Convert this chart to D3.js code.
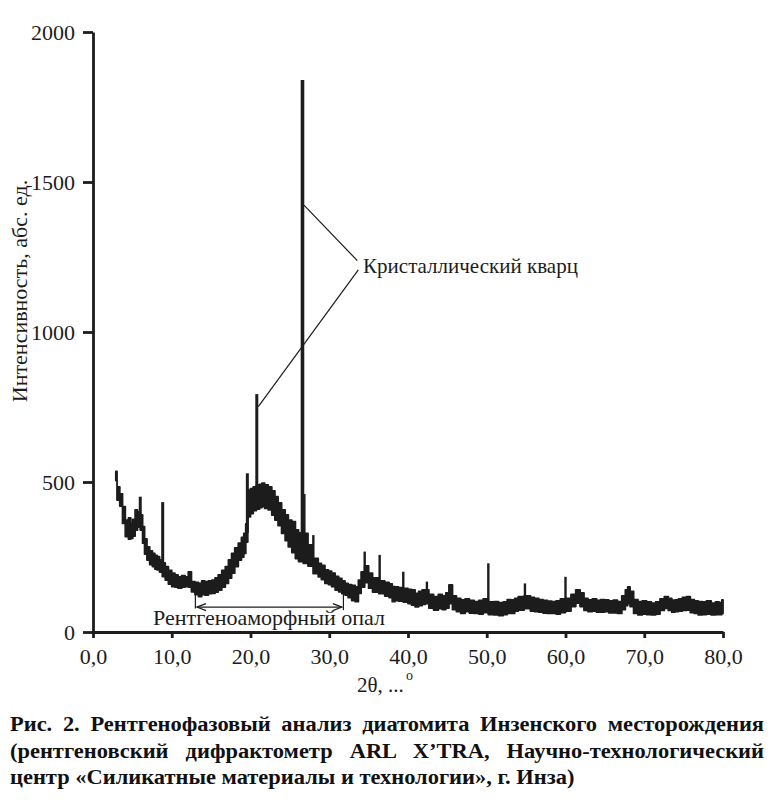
<!DOCTYPE html>
<html>
<head>
<meta charset="utf-8">
<script src="https://cdn.jsdelivr.net/npm/d3@7"></script>
<style>
  body { margin: 0; background: #fff; }
  svg { display: block; font-family: "Liberation Serif", "Times New Roman", serif; }
</style>
</head>
<body>
<div id="chart"></div>
<script>
// Declare constants
const WIDTH = 772;
const HEIGHT = 800;
const INK = "#1c1c1c";

// XRD pattern: noisy band read as upper / lower envelope
const twoTheta = [2.9, 3.2, 3.6, 3.9, 4.3, 4.7, 4.9, 5.2, 5.5, 5.8, 6.2, 6.4, 6.7, 7.0, 7.4, 7.7, 8.0, 8.3, 8.6,
  9.0, 9.35, 9.8, 10.2, 10.6, 11.0, 11.5, 11.9, 12.3, 12.7, 13.2, 13.6, 14.0, 14.4, 14.9, 15.3, 15.7, 16.1,
  16.6, 17.0, 17.4, 17.8, 18.2, 18.7, 19.0, 19.3, 19.5, 19.8, 20.2, 20.5, 21.0, 21.3, 21.6, 22.0, 22.5,
  22.9, 23.3, 23.7, 24.2, 24.6, 25.0, 25.5, 25.9, 26.3, 27.1, 27.5, 28.4, 28.8, 29.2, 29.7, 30.1, 30.5,
  31.0, 31.4, 31.8, 32.2, 32.6, 33.1, 33.5, 33.9, 34.2, 34.8, 35.2, 35.8, 36.8, 37.3, 37.9, 38.1, 38.6,
  39.0, 39.8, 40.2, 40.7, 41.1, 41.6, 42.0, 42.4, 42.9, 43.6, 44.1, 44.6, 45.0, 45.4, 45.9, 46.4, 47.0,
  47.5, 48.1, 48.7, 49.3, 49.8, 50.6, 51.2, 51.8, 52.4, 52.8, 53.3, 53.8, 54.2, 55.3, 55.8, 56.3, 56.9,
  57.4, 58.0, 58.5, 59.1, 59.6, 60.4, 61.0, 61.6, 62.1, 62.6, 63.1, 63.7, 64.2, 64.7, 65.2, 65.8, 66.3,
  66.9, 67.4, 67.8, 68.0, 68.4, 68.9, 69.5, 70.0, 70.6, 71.2, 71.7, 72.3, 72.8, 73.3, 73.7, 74.1, 74.6,
  75.1, 75.6, 76.1, 76.6, 77.1, 77.6, 78.2, 78.8, 79.3, 79.7, 80.0];
const upper = [535, 484, 460, 418, 373, 380, 362, 375, 407, 400, 390, 351, 310, 284, 270, 262, 255, 251, 240,
  230, 218, 205, 196, 190, 184, 188, 184, 200, 168, 165, 162, 170, 168, 170, 173, 180, 190,
  205, 218, 240, 262, 280, 296, 315, 329, 360, 473, 478, 484, 490, 492, 496, 490, 484,
  470, 451, 430, 407, 390, 373, 368, 340, 330, 329, 290, 245, 229, 222, 207, 203, 196,
  185, 179, 170, 162, 158, 155, 150, 173, 200, 220, 196, 180, 170, 165, 160, 151, 150,
  148, 145, 142, 140, 129, 135, 140, 140, 125, 118, 125, 120, 130, 157, 120, 112, 107,
  110, 105, 101, 105, 110, 100, 101, 98, 100, 108, 107, 112, 118, 120, 115, 112, 108,
  105, 103, 101, 104, 110, 112, 125, 140, 130, 112, 107, 110, 105, 108, 107, 104, 106,
  101, 120, 140, 150, 135, 108, 101, 104, 100, 96, 100, 110, 118, 112, 106, 107, 110,
  115, 118, 108, 104, 101, 100, 104, 96, 100, 98, 107];
const lower = [505, 440, 420, 362, 318, 310, 312, 320, 340, 350, 340, 296, 260, 240, 225, 218, 210, 207, 200,
  185, 173, 160, 151, 150, 146, 150, 151, 150, 134, 125, 118, 125, 123, 128, 129, 133, 140,
  150, 162, 180, 196, 218, 240, 250, 262, 300, 384, 395, 405, 410, 415, 418, 412, 407,
  390, 373, 355, 329, 305, 284, 265, 245, 235, 229, 220, 195, 184, 175, 162, 158, 151,
  140, 134, 128, 123, 115, 105, 101, 129, 150, 165, 146, 133, 128, 120, 115, 101, 105,
  103, 100, 95, 90, 84, 88, 92, 95, 80, 73, 78, 75, 80, 95, 75, 68, 62,
  68, 63, 62, 60, 65, 58, 57, 55, 58, 62, 62, 70, 73, 78, 70, 68, 66,
  63, 62, 62, 60, 65, 70, 85, 96, 85, 72, 68, 70, 66, 66, 68, 64, 64,
  62, 75, 88, 95, 85, 62, 57, 60, 58, 57, 60, 72, 79, 72, 66, 68, 70,
  72, 73, 65, 62, 57, 58, 60, 57, 58, 58, 62];

// narrow crystalline reflections
const spikePos = [6.0, 8.85, 12.3, 19.6, 20.8, 25.5, 26.6, 26.8, 27.98, 34.5, 36.4, 39.4, 42.4, 45.4, 50.2, 54.85, 60.0, 68.1];
const spikeTop = [451, 433, 201, 529, 793, 368, 1840, 460, 323, 268, 257, 201, 168, 157, 229, 162, 184, 150];
const spikeBase = [370, 230, 165, 330, 450, 320, 300, 280, 230, 180, 150, 125, 115, 100, 80, 95, 85, 110];

const xTicks = [0, 10, 20, 30, 40, 50, 60, 70, 80];
const yTicks = [0, 500, 1000, 1500, 2000];

const captionLines = [
  "Рис. 2. Рентгенофазовый анализ диатомита Инзенского месторождения",
  "(рентгеновский дифрактометр ARL X’TRA, Научно-технологический",
  "центр «Силикатные материалы и технологии», г. Инза)"
];

const svg = d3.select("#chart").append("svg")
  .attr("width", WIDTH)
  .attr("height", HEIGHT);

const x = d3.scaleLinear().domain([0, 80]).range([93, 723]);
const y = d3.scaleLinear().domain([0, 2000]).range([632, 32]);

// band
const idx = d3.range(twoTheta.length);
svg.append("path")
  .datum(idx)
  .attr("d", d3.area()
    .curve(d3.curveStep)
    .x(i => x(twoTheta[i]))
    .y0(i => y(lower[i]))
    .y1(i => y(upper[i])))
  .attr("fill", INK)
  .attr("stroke", INK)
  .attr("stroke-width", 1.8)
  .attr("stroke-linejoin", "round");

// spikes
svg.selectAll("line.spike")
  .data(d3.range(spikePos.length))
  .join("line")
    .attr("class", "spike")
    .attr("x1", i => x(spikePos[i]))
    .attr("x2", i => x(spikePos[i]))
    .attr("y1", i => y(spikeBase[i]))
    .attr("y2", i => y(spikeTop[i]))
    .attr("stroke", INK)
    .attr("stroke-width", i => spikeTop[i] > 1000 ? 3.6 : (spikeTop[i] > 400 ? 3 : 2.4));

// axes
const fmt = d => d.toFixed(1).replace(".", ",");
const xAxis = svg.append("g")
  .attr("transform", `translate(0,${y(0)})`)
  .call(d3.axisBottom(x).tickValues(xTicks).tickFormat(fmt).tickSize(6).tickSizeOuter(0).tickPadding(10));
const yAxis = svg.append("g")
  .attr("transform", `translate(${x(0)},0)`)
  .call(d3.axisLeft(y).tickValues(yTicks).tickFormat(d3.format("d")).tickSize(10).tickSizeOuter(0).tickPadding(8));

[xAxis, yAxis].forEach(g => {
  g.attr("font-family", null);
  g.select(".domain").attr("stroke", INK).attr("stroke-width", 2.8);
  g.selectAll(".tick line").attr("stroke", INK).attr("stroke-width", 2.8);
  g.selectAll(".tick text")
    .attr("fill", INK)
    .style("font-family", "'Liberation Serif', serif")
    .style("font-size", "22px");
});

// axis titles
svg.append("text")
  .attr("transform", "translate(27,291) rotate(-90)")
  .attr("text-anchor", "middle")
  .attr("fill", INK)
  .style("font-size", "22px")
  .text("Интенсивность, абс. ед.");

svg.append("text")
  .attr("x", 357).attr("y", 692)
  .attr("fill", INK)
  .style("font-size", "21px")
  .text("2θ, ...");
svg.append("text")
  .attr("x", 406).attr("y", 680)
  .attr("fill", INK)
  .style("font-size", "14px")
  .text("o");

// quartz annotation
const leader = d3.line().x(d => x(d[0])).y(d => y(d[1]));
svg.append("path")
  .attr("d", leader([[26.79, 1423], [33.56, 1238]]))
  .attr("fill", "none").attr("stroke", INK).attr("stroke-width", 1.2);
svg.append("path")
  .attr("d", leader([[33.69, 1207], [20.99, 751]]))
  .attr("fill", "none").attr("stroke", INK).attr("stroke-width", 1.2);
svg.append("text")
  .attr("x", x(34.3)).attr("y", y(1196))
  .attr("fill", INK)
  .style("font-size", "21px")
  .text("Кристаллический кварц");

// amorphous opal bracket
const opalFrom = 13.0, opalTo = 31.8, opalLevel = 83;
const bracket = svg.append("g").attr("stroke", INK).attr("fill", "none").attr("stroke-width", 1.2);
bracket.append("path").attr("d", leader([[opalFrom, 140], [opalFrom, opalLevel - 5]]));
bracket.append("path").attr("d", leader([[opalTo, 130], [opalTo, opalLevel - 10]]));
bracket.append("path").attr("d", leader([[opalFrom + 0.2, opalLevel], [opalTo - 0.2, opalLevel]]));
const ax0 = x(opalFrom + 0.2), ax1 = x(opalTo - 0.2), ay = y(opalLevel);
bracket.append("path").attr("d", `M${ax0 + 9},${ay - 3.5}L${ax0},${ay}L${ax0 + 9},${ay + 3.5}`);
bracket.append("path").attr("d", `M${ax1 - 9},${ay - 3.5}L${ax1},${ay}L${ax1 - 9},${ay + 3.5}`);
svg.append("text")
  .attr("x", x(22.35)).attr("y", y(23))
  .attr("text-anchor", "middle")
  .attr("fill", INK)
  .style("font-size", "22px")
  .text("Рентгеноаморфный опал");

// caption, justified like the printed figure
const capLeft = 10, capRight = 764, lastLineEnd = 575;
const capBase = [731, 758, 784];
const capTexts = captionLines.map((t, i) => svg.append("text")
  .attr("y", capBase[i])
  .attr("fill", "#111")
  .style("font-size", "22px")
  .style("font-weight", "bold")
  .text(t));
const sx = (lastLineEnd - capLeft) / capTexts[2].node().getComputedTextLength();
capTexts.forEach((t, i) => {
  t.attr("transform", `translate(${capLeft},0) scale(${sx},1)`).attr("x", 0);
  if (i < 2) {
    const w = t.node().getComputedTextLength();
    const gaps = captionLines[i].split(" ").length - 1;
    t.attr("word-spacing", ((capRight - capLeft) / sx - w) / gaps);
  }
});
</script>
</body>
</html>
